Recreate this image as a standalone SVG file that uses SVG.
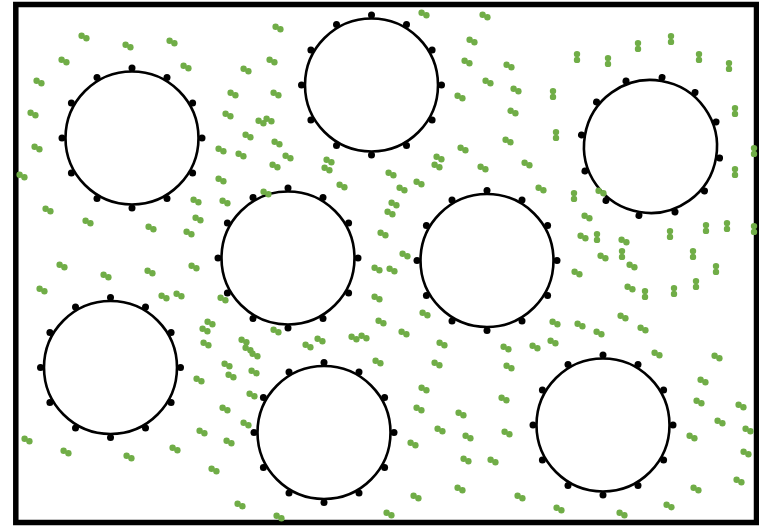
<svg xmlns="http://www.w3.org/2000/svg" width="759" height="526" viewBox="0 0 759 526">
<style>
.frame{fill:#fff;stroke:#000;stroke-width:5.5}
.ring{fill:none;stroke:#000;stroke-width:2.6}
.bd{fill:#000}
.gd{fill:#70ad47}
</style>
<defs>
<circle id="b" r="3.5" class="bd"/>
<g id="ringshape">
<circle r="66.5" class="ring"/>
<use href="#b" x="0" y="-70"/>
<use href="#b" x="35" y="-60.6"/>
<use href="#b" x="60.6" y="-35"/>
<use href="#b" x="70" y="0"/>
<use href="#b" x="60.6" y="35"/>
<use href="#b" x="35" y="60.6"/>
<use href="#b" x="0" y="70"/>
<use href="#b" x="-35" y="60.6"/>
<use href="#b" x="-60.6" y="35"/>
<use href="#b" x="-70" y="0"/>
<use href="#b" x="-60.6" y="-35"/>
<use href="#b" x="-35" y="-60.6"/>
</g>
<circle id="g" r="3.2" class="gd"/>
<g id="d"><use href="#g" x="-2.4" y="-1.2"/><use href="#g" x="2.4" y="1.2"/></g>
<g id="v"><use href="#g" x="0" y="-2.9"/><use href="#g" x="0" y="2.9"/></g>
</defs>
<rect x="15.8" y="4.5" width="740.7" height="518" class="frame"/>
<g id="circle1"><use href="#ringshape" transform="translate(132,138)"/></g>
<g id="circle2"><use href="#ringshape" transform="translate(371.5,85)"/></g>
<g id="circle3"><use href="#ringshape" transform="translate(650.5,146.5) rotate(9.5)"/></g>
<g id="circle4"><use href="#ringshape" transform="translate(288,258)"/></g>
<g id="circle5"><use href="#ringshape" transform="translate(487,260.5)"/></g>
<g id="circle6"><use href="#ringshape" transform="translate(110.5,367.5)"/></g>
<g id="circle7"><use href="#ringshape" transform="translate(324,432.5)"/></g>
<g id="circle8"><use href="#ringshape" transform="translate(603,425)"/></g>
<g id="particles">
<use href="#d" x="84" y="37"/>
<use href="#d" x="128" y="46"/>
<use href="#d" x="172" y="42"/>
<use href="#d" x="64" y="61"/>
<use href="#d" x="39" y="82"/>
<use href="#d" x="186" y="67"/>
<use href="#d" x="246" y="70"/>
<use href="#d" x="233" y="94"/>
<use href="#d" x="33" y="114"/>
<use href="#d" x="228" y="115"/>
<use href="#d" x="248" y="136"/>
<use href="#d" x="261" y="122"/>
<use href="#d" x="269" y="120"/>
<use href="#d" x="37" y="148"/>
<use href="#d" x="221" y="150"/>
<use href="#d" x="241" y="155"/>
<use href="#d" x="22" y="176"/>
<use href="#d" x="221" y="180"/>
<use href="#d" x="196" y="201"/>
<use href="#d" x="225" y="202"/>
<use href="#d" x="48" y="210"/>
<use href="#d" x="88" y="222"/>
<use href="#d" x="151" y="228"/>
<use href="#d" x="198" y="219"/>
<use href="#d" x="189" y="233"/>
<use href="#d" x="424" y="14"/>
<use href="#d" x="485" y="16"/>
<use href="#d" x="278" y="28"/>
<use href="#d" x="472" y="41"/>
<use href="#d" x="467" y="62"/>
<use href="#d" x="272" y="61"/>
<use href="#d" x="509" y="66"/>
<use href="#d" x="488" y="82"/>
<use href="#d" x="276" y="94"/>
<use href="#d" x="460" y="97"/>
<use href="#d" x="277" y="143"/>
<use href="#d" x="288" y="157"/>
<use href="#d" x="275" y="166"/>
<use href="#d" x="329" y="161"/>
<use href="#d" x="327" y="169"/>
<use href="#d" x="463" y="149"/>
<use href="#d" x="439" y="158"/>
<use href="#d" x="437" y="166"/>
<use href="#d" x="483" y="168"/>
<use href="#d" x="513" y="112"/>
<use href="#d" x="508" y="141"/>
<use href="#d" x="391" y="174"/>
<use href="#d" x="402" y="189"/>
<use href="#d" x="419" y="183"/>
<use href="#d" x="342" y="186"/>
<use href="#d" x="394" y="204"/>
<use href="#d" x="390" y="213"/>
<use href="#d" x="383" y="234"/>
<use href="#d" x="405" y="255"/>
<use href="#d" x="266" y="193"/>
<use href="#d" x="516" y="90"/>
<use href="#d" x="527" y="164"/>
<use href="#d" x="541" y="189"/>
<use href="#d" x="601" y="192"/>
<use href="#d" x="587" y="217"/>
<use href="#d" x="583" y="237"/>
<use href="#d" x="624" y="241"/>
<use href="#d" x="603" y="257"/>
<use href="#d" x="62" y="266"/>
<use href="#d" x="106" y="276"/>
<use href="#d" x="150" y="272"/>
<use href="#d" x="194" y="267"/>
<use href="#d" x="42" y="290"/>
<use href="#d" x="164" y="297"/>
<use href="#d" x="179" y="295"/>
<use href="#d" x="223" y="299"/>
<use href="#d" x="210" y="323"/>
<use href="#d" x="205" y="330"/>
<use href="#d" x="206" y="344"/>
<use href="#d" x="244" y="341"/>
<use href="#d" x="248" y="349"/>
<use href="#d" x="255" y="355"/>
<use href="#d" x="227" y="365"/>
<use href="#d" x="231" y="376"/>
<use href="#d" x="199" y="380"/>
<use href="#d" x="254" y="372"/>
<use href="#d" x="252" y="395"/>
<use href="#d" x="225" y="409"/>
<use href="#d" x="246" y="424"/>
<use href="#d" x="202" y="432"/>
<use href="#d" x="229" y="442"/>
<use href="#d" x="27" y="440"/>
<use href="#d" x="66" y="452"/>
<use href="#d" x="129" y="457"/>
<use href="#d" x="175" y="449"/>
<use href="#d" x="214" y="470"/>
<use href="#d" x="240" y="505"/>
<use href="#d" x="377" y="269"/>
<use href="#d" x="392" y="270"/>
<use href="#d" x="377" y="298"/>
<use href="#d" x="381" y="322"/>
<use href="#d" x="425" y="314"/>
<use href="#d" x="404" y="333"/>
<use href="#d" x="276" y="331"/>
<use href="#d" x="308" y="346"/>
<use href="#d" x="320" y="340"/>
<use href="#d" x="354" y="338"/>
<use href="#d" x="364" y="337"/>
<use href="#d" x="378" y="362"/>
<use href="#d" x="442" y="344"/>
<use href="#d" x="437" y="364"/>
<use href="#d" x="506" y="348"/>
<use href="#d" x="509" y="367"/>
<use href="#d" x="424" y="389"/>
<use href="#d" x="419" y="409"/>
<use href="#d" x="461" y="414"/>
<use href="#d" x="440" y="430"/>
<use href="#d" x="468" y="437"/>
<use href="#d" x="413" y="444"/>
<use href="#d" x="504" y="399"/>
<use href="#d" x="507" y="433"/>
<use href="#d" x="466" y="460"/>
<use href="#d" x="493" y="461"/>
<use href="#d" x="460" y="489"/>
<use href="#d" x="416" y="497"/>
<use href="#d" x="389" y="514"/>
<use href="#d" x="279" y="517"/>
<use href="#d" x="632" y="266"/>
<use href="#d" x="577" y="273"/>
<use href="#d" x="630" y="288"/>
<use href="#d" x="555" y="323"/>
<use href="#d" x="580" y="325"/>
<use href="#d" x="599" y="333"/>
<use href="#d" x="623" y="317"/>
<use href="#d" x="643" y="329"/>
<use href="#d" x="553" y="342"/>
<use href="#d" x="535" y="347"/>
<use href="#d" x="657" y="354"/>
<use href="#d" x="717" y="357"/>
<use href="#d" x="703" y="381"/>
<use href="#d" x="699" y="402"/>
<use href="#d" x="741" y="406"/>
<use href="#d" x="720" y="422"/>
<use href="#d" x="748" y="430"/>
<use href="#d" x="692" y="437"/>
<use href="#d" x="746" y="453"/>
<use href="#d" x="739" y="481"/>
<use href="#d" x="696" y="489"/>
<use href="#d" x="520" y="497"/>
<use href="#d" x="559" y="509"/>
<use href="#d" x="669" y="506"/>
<use href="#d" x="622" y="514"/>
<use href="#v" x="671" y="39"/>
<use href="#v" x="638" y="46"/>
<use href="#v" x="577" y="57"/>
<use href="#v" x="608" y="61"/>
<use href="#v" x="699" y="57"/>
<use href="#v" x="729" y="66"/>
<use href="#v" x="553" y="94"/>
<use href="#v" x="735" y="111"/>
<use href="#v" x="556" y="135"/>
<use href="#v" x="754" y="151"/>
<use href="#v" x="735" y="172"/>
<use href="#v" x="574" y="196"/>
<use href="#v" x="597" y="237"/>
<use href="#v" x="670" y="234"/>
<use href="#v" x="706" y="228"/>
<use href="#v" x="727" y="226"/>
<use href="#v" x="754" y="229"/>
<use href="#v" x="622" y="254"/>
<use href="#v" x="693" y="254"/>
<use href="#v" x="716" y="269"/>
<use href="#v" x="645" y="294"/>
<use href="#v" x="674" y="291"/>
<use href="#v" x="696" y="284"/>
</g>
</svg>
